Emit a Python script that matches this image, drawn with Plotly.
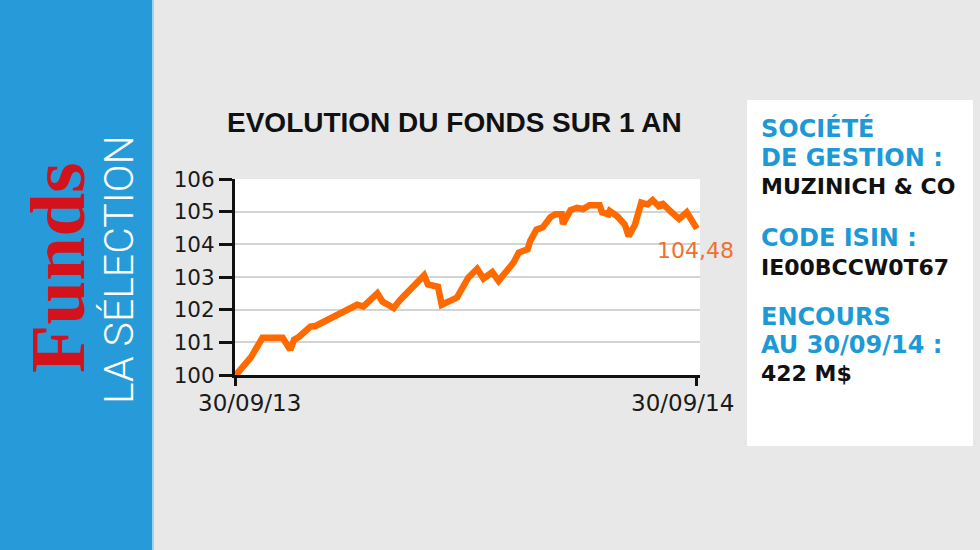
import pandas as pd
import plotly.graph_objects as go

# valeur liquidative base 100
dates = ["2013-09-30", "2013-10-06", "2013-10-12", "2013-10-21", "2013-11-06", "2013-11-12",
         "2013-11-15", "2013-11-19", "2013-11-28", "2013-12-02", "2013-12-19", "2014-01-04",
         "2014-01-09", "2014-01-20", "2014-01-24", "2014-02-02", "2014-02-07", "2014-02-26",
         "2014-03-01", "2014-03-09", "2014-03-12", "2014-03-19", "2014-03-24", "2014-04-02",
         "2014-04-09", "2014-04-14", "2014-04-21", "2014-04-26", "2014-05-08", "2014-05-12",
         "2014-05-19", "2014-05-21", "2014-05-26", "2014-05-31", "2014-06-06", "2014-06-10",
         "2014-06-15", "2014-06-16", "2014-06-22", "2014-06-27", "2014-07-02", "2014-07-07",
         "2014-07-15", "2014-07-17", "2014-07-22", "2014-07-23", "2014-07-29", "2014-08-04",
         "2014-08-07", "2014-08-12", "2014-08-17", "2014-08-22", "2014-08-26", "2014-09-01",
         "2014-09-02", "2014-09-10", "2014-09-16", "2014-09-22", "2014-09-30"]
values = [100.00, 100.25, 100.55, 101.14, 101.14, 100.77,
          101.08, 101.17, 101.48, 101.50, 101.85, 102.15,
          102.10, 102.50, 102.25, 102.05, 102.30, 103.05,
          102.77, 102.70, 102.15, 102.30, 102.37, 102.98,
          103.25, 102.95, 103.15, 102.88, 103.45, 103.75,
          103.85, 104.10, 104.45, 104.52, 104.83, 104.92,
          104.92, 104.62, 105.05, 105.12, 105.08, 105.20,
          105.20, 104.98, 104.92, 105.02, 104.86, 104.60,
          104.25, 104.60, 105.28, 105.22, 105.35, 105.12,
          105.28, 104.98, 104.78, 104.98, 104.48]

y_ticks = [100, 101, 102, 103, 104, 105, 106]
x_ticks = ["2013-09-30", "2014-09-30"]
x_labels = ["30/09/13", "30/09/14"]
x_label_shift = [14, -14]   # les libelles sont rentres vers l'interieur
last_label = "104,48"

info_lines = [
    ("SOCIÉTÉ", "blue"), ("DE GESTION :", "blue"), ("MUZINICH & CO", "black"),
    ("CODE ISIN :", "blue"), ("IE00BCCW0T67", "black"),
    ("ENCOURS", "blue"), ("AU 30/09/14 :", "blue"), ("422 M$", "black"),
]
info_y = [128, 158, 186, 238, 267, 317, 345, 373]

df = pd.DataFrame({"date": pd.to_datetime(dates), "vl": values})

# zone de trace en pixels
L, R, T, B = 235, 700, 179, 375


def px(x):
    return (x - L) / (R - L)


def py(y):
    return (B - y) / (B - T)


ORANGE = "#ff6a00"
BLUE = "#1d9ad6"

fig = go.Figure(go.Scatter(x=df["date"], y=df["vl"], mode="lines",
                           line=dict(color=ORANGE, width=6.5), hoverinfo="skip"))

shapes = [
    dict(type="rect", xref="paper", yref="paper", x0=px(0), x1=px(152), y0=py(550), y1=py(0),
         fillcolor="#279bd9", line_width=0, layer="below"),
    dict(type="line", xref="paper", yref="paper", x0=px(153), x1=px(153), y0=py(550), y1=py(0),
         line=dict(color="#8cc8ec", width=1.5)),
    dict(type="rect", xref="paper", yref="paper", x0=px(747), x1=px(973), y0=py(446), y1=py(100),
         fillcolor="white", line_width=0, layer="below"),
]

annotations = [
    dict(text="EVOLUTION DU FONDS SUR 1 AN", xref="paper", yref="paper", x=px(454), y=py(122),
         xanchor="center", yanchor="middle", showarrow=False,
         font=dict(family="Liberation Sans", size=28, color="#111111", weight="bold")),
    dict(text="Funds", xref="paper", yref="paper", x=px(57), y=py(268), textangle=-90,
         xanchor="center", yanchor="middle", showarrow=False,
         font=dict(family="Liberation Serif", size=79, color="#d4121c", weight="bold")),
    dict(text="LA SÉLECTION", xref="paper", yref="paper", x=px(119), y=py(270), textangle=-90,
         xanchor="center", yanchor="middle", showarrow=False,
         font=dict(family="Roboto", size=41, color="white", weight=300)),
    dict(text=last_label, x=df["date"].iloc[-1], y=df["vl"].iloc[-1], xref="x", yref="y",
         showarrow=False, yshift=-22, xshift=-1,
         font=dict(family="DejaVu Sans", size=22, color="#f07030")),
]

for tv, tt, sh in zip(x_ticks, x_labels, x_label_shift):
    annotations.append(dict(text=tt, x=tv, xref="x", y=py(403), yref="paper",
                            xanchor="center", yanchor="middle", xshift=sh, showarrow=False,
                            font=dict(family="DejaVu Sans", size=23, color="#1a1a1a")))

for (txt, kind), yy in zip(info_lines, info_y):
    color = BLUE if kind == "blue" else "#111111"
    size = 24 if kind == "blue" else 22
    annotations.append(dict(text=txt, xref="paper", yref="paper", x=px(759), y=py(yy),
                            xanchor="left", yanchor="middle", showarrow=False,
                            font=dict(family="DejaVu Sans", size=size, color=color, weight="bold")))

fig.update_layout(
    width=980, height=550,
    margin=dict(l=L, r=980 - R, t=T, b=550 - B, pad=0),
    paper_bgcolor="#e8e8e8", plot_bgcolor="white",
    showlegend=False,
    shapes=shapes, annotations=annotations,
    xaxis=dict(range=["2013-09-29 06:00", "2014-10-02 12:00"], tickvals=x_ticks, showticklabels=False,
               showgrid=False, zeroline=False, showline=True, linecolor="#111111", linewidth=3,
               ticks="outside", ticklen=8, tickwidth=2.5, tickcolor="#111111"),
    yaxis=dict(range=[100, 106], tickvals=y_ticks, showgrid=True, gridcolor="#d4d4d4", gridwidth=1.5,
               zeroline=False, showline=True, linecolor="#111111", linewidth=3,
               ticks="outside", ticklen=13, tickwidth=2.5, tickcolor="#111111",
               tickfont=dict(family="DejaVu Sans", size=21.5, color="#1a1a1a")),
)

fig.write_html("out.html", config={"displayModeBar": False},
               post_script="document.body.style.margin='0';")
